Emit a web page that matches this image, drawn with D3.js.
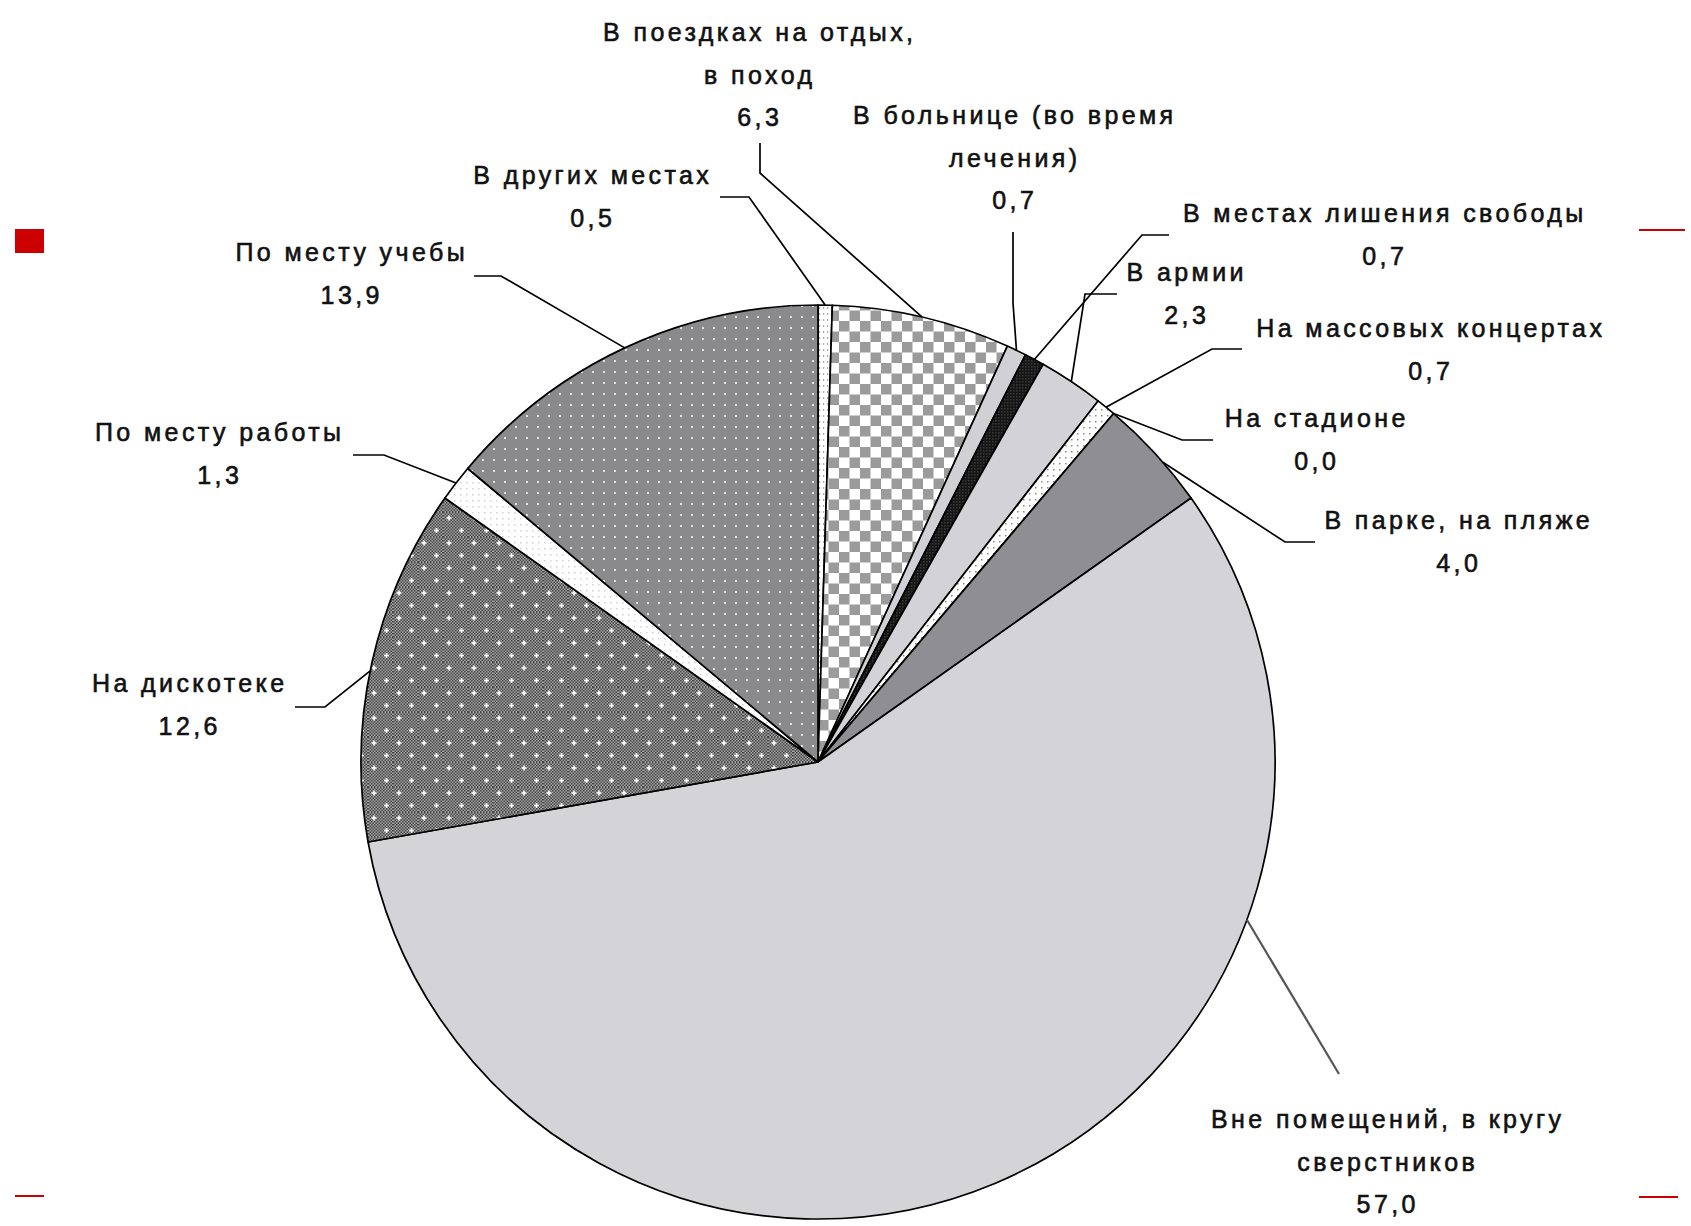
<!DOCTYPE html>
<html><head><meta charset="utf-8">
<script src="https://cdn.jsdelivr.net/npm/d3@7"></script>
<style>body{margin:0;background:#fff}svg{display:block}</style>
</head><body>
<svg id="chart" width="1691" height="1226"></svg>
<script>
// ---- data (clockwise from 12 o'clock) ----
const categories = [
  "В других местах",
  "В поездках на отдых, в поход",
  "В больнице (во время лечения)",
  "В местах лишения свободы",
  "В армии",
  "На массовых концертах",
  "На стадионе",
  "В парке, на пляже",
  "Вне помещений, в кругу сверстников",
  "На дискотеке",
  "По месту работы",
  "По месту учебы"
];
const values = [0.5, 6.3, 0.7, 0.7, 2.3, 0.7, 0.0, 4.0, 57.0, 12.6, 1.3, 13.9];
const labelLines = [
  ["В других местах"],
  ["В поездках на отдых,", "в поход"],
  ["В больнице (во время", "лечения)"],
  ["В местах лишения свободы"],
  ["В армии"],
  ["На массовых концертах"],
  ["На стадионе"],
  ["В парке, на пляже"],
  ["Вне помещений, в кругу", "сверстников"],
  ["На дискотеке"],
  ["По месту работы"],
  ["По месту учебы"]
];

// ---- layout / style (separate from data) ----
const W = 1691, H = 1226;
const cx = 818, cy = 762, R = 457;
const fills = ["url(#pOther)", "url(#pCheck)", "#d1d0d5", "url(#pBlack)", "#d3d2d7",
  "url(#pConcert)", "#ffffff", "#8e8e93", "#d4d3d8", "url(#pDisco)", "url(#pWork)", "url(#pStudy)"];
// text centre x, first line centre y, elbow point, leader end, optional attach angle (deg)
const labelLayout = [
  {x: 591, y: 175, elbow: [749, 197], end: [720, 197]},
  {x: 758, y: 32, elbow: [760, 173], end: [760, 143]},
  {x: 1013, y: 115, elbow: [1013, 303], end: [1013, 232]},
  {x: 1383, y: 213, elbow: [1142, 235], end: [1169, 235]},
  {x: 1185, y: 272, elbow: [1085, 294], end: [1117, 294]},
  {x: 1429, y: 328, elbow: [1212, 349], end: [1242, 349]},
  {x: 1315, y: 418, elbow: [1182, 440], end: [1213, 440]},
  {x: 1457, y: 520, elbow: [1285, 542], end: [1315, 542], angle: 49},
  {x: 1386, y: 1119, elbow: [1339, 1074], end: [1339, 1074], angle: 110.2, grey: true},
  {x: 188, y: 683, elbow: [325, 707], end: [295, 707], angle: 281.5},
  {x: 218, y: 432, elbow: [384, 455], end: [353, 455]},
  {x: 350, y: 252, elbow: [501, 276], end: [474, 276]}
];
const lineStep = 42.5;

const svg = d3.select("#chart");
const defs = svg.append("defs");

// patterns
function pat(id, w, h) {
  return defs.append("pattern").attr("id", id).attr("patternUnits", "userSpaceOnUse")
    .attr("width", w).attr("height", h);
}
let p = pat("pStudy", 11, 11);
p.append("rect").attr("width", 11).attr("height", 11).attr("fill", "#8a8a8c");
p.append("rect").attr("x", 5).attr("y", 5).attr("width", 2).attr("height", 2).attr("fill", "#e2e2e2");

p = pat("dith", 3, 3);
p.append("rect").attr("width", 3).attr("height", 3).attr("fill", "#a4a4a4");
p.append("rect").attr("width", 1.5).attr("height", 1.5).attr("fill", "#444");
p.append("rect").attr("x", 1.5).attr("y", 1.5).attr("width", 1.5).attr("height", 1.5).attr("fill", "#444");
p = pat("pDisco", 25, 25);
p.append("rect").attr("width", 25).attr("height", 25).attr("fill", "url(#dith)");
[[6, 6], [18.5, 18.5]].forEach(([x, y]) => {
  p.append("rect").attr("x", x - 2.5).attr("y", y - 0.8).attr("width", 5).attr("height", 1.6).attr("fill", "#fff");
  p.append("rect").attr("x", x - 0.8).attr("y", y - 2.5).attr("width", 1.6).attr("height", 5).attr("fill", "#fff");
});

p = pat("pWork", 6, 6);
p.append("rect").attr("width", 6).attr("height", 6).attr("fill", "#fff");
p.append("rect").attr("x", 2).attr("y", 2).attr("width", 1.5).attr("height", 1.5).attr("fill", "#d2d2d2");

p = pat("pCheck", 21, 21);
p.append("rect").attr("width", 21).attr("height", 21).attr("fill", "#fff");
p.append("rect").attr("width", 10.5).attr("height", 10.5).attr("fill", "#9b9b9b");
p.append("rect").attr("x", 10.5).attr("y", 10.5).attr("width", 10.5).attr("height", 10.5).attr("fill", "#9b9b9b");

p = pat("pBlack", 3, 3);
p.append("rect").attr("width", 3).attr("height", 3).attr("fill", "#151515");
p.append("rect").attr("width", 1.5).attr("height", 1.5).attr("fill", "#3a3a3a");

p = pat("pConcert", 6, 6);
p.append("rect").attr("width", 6).attr("height", 6).attr("fill", "#fff");
p.append("rect").attr("x", 1).attr("y", 1).attr("width", 1.5).attr("height", 1.5).attr("fill", "#888");

p = pat("pOther", 4, 6);
p.append("rect").attr("width", 4).attr("height", 6).attr("fill", "#fff");
p.append("rect").attr("x", 1).attr("y", 1).attr("width", 1.2).attr("height", 2).attr("fill", "#aaa");

// corner marks
svg.append("rect").attr("x", 15).attr("y", 229).attr("width", 29).attr("height", 24).attr("fill", "#cc0000");
[[1639, 230, 1685], [15, 1196, 44], [1639, 1197, 1678]].forEach(([x1, y, x2]) => {
  svg.append("line").attr("x1", x1).attr("x2", x2).attr("y1", y).attr("y2", y)
    .attr("stroke", "#cc0000").attr("stroke-width", 2);
});

// pie
const pie = d3.pie().sort(null).value(d => d).startAngle(0).endAngle(2 * Math.PI);
const arcs = pie(values);
const arc = d3.arc().innerRadius(0).outerRadius(R);
const g = svg.append("g").attr("transform", `translate(${cx},${cy})`);
g.selectAll("path.slice").data(arcs).join("path").attr("class", "slice")
  .attr("d", arc)
  .attr("fill", (d, i) => fills[i])
  .attr("stroke", "#000").attr("stroke-width", 1.7).attr("stroke-linejoin", "round");

// labels + leaders
const fmt = d3.formatLocale({decimal: ",", thousands: " ", grouping: [3], currency: ["", ""]}).format(".1f");
const lg = svg.append("g");
arcs.forEach((a, i) => {
  const L = labelLayout[i];
  const ang = L.angle !== undefined ? L.angle * Math.PI / 180 : (a.startAngle + a.endAngle) / 2;
  const sx = cx + R * Math.sin(ang), sy = cy - R * Math.cos(ang);
  lg.append("path")
    .attr("d", d3.line()([[sx, sy], L.elbow, L.end]))
    .attr("fill", "none")
    .attr("stroke", L.grey ? "#555" : "#000")
    .attr("stroke-width", L.grey ? 2.2 : 1.7);
  const lines = labelLines[i].concat([fmt(values[i])]);
  lines.forEach((t, k) => {
    lg.append("text")
      .attr("x", L.x + 1.75).attr("y", L.y + k * lineStep + 9)
      .attr("text-anchor", "middle")
      .attr("font-family", "'Liberation Sans', Arial, sans-serif")
      .attr("font-size", 25)
      .attr("letter-spacing", 3.4)
      .attr("fill", "#111")
      .attr("stroke", "#111")
      .attr("stroke-width", 0.6)
      .text(t);
  });
});
</script>
</body></html>
